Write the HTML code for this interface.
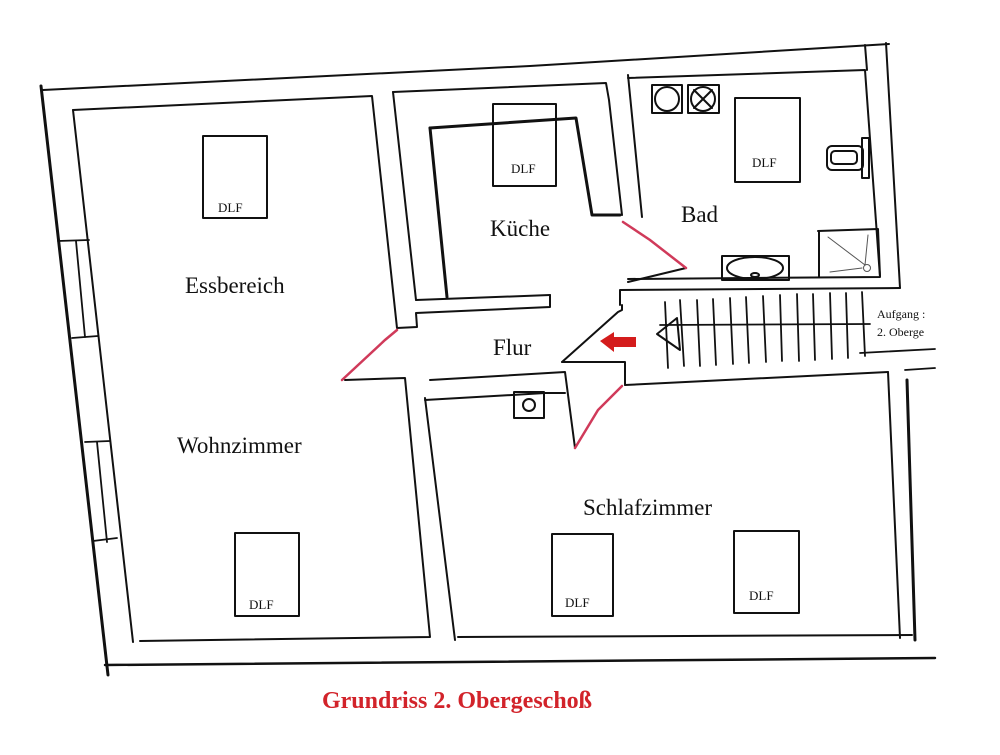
<!DOCTYPE html>
<html><head><meta charset="utf-8"><style>
html,body{margin:0;padding:0;background:#fff;}
svg{display:block;}
text{font-family:"Liberation Serif",serif;fill:#111;}
</style></head><body>
<svg width="1000" height="755" viewBox="0 0 1000 755" xmlns="http://www.w3.org/2000/svg">
<g fill="none" stroke="#111" stroke-width="2" stroke-linecap="round" stroke-linejoin="round">
<!-- outer -->
<polyline points="43,90 530,66 889,44"/>
<line x1="41" y1="86" x2="108" y2="675" stroke-width="3"/>
<line x1="105" y1="665" x2="935" y2="658" stroke-width="2.5"/>
<line x1="886" y1="43" x2="900" y2="288"/>
<line x1="865" y1="45" x2="867" y2="70"/>
<!-- Essbereich / Wohnzimmer inner -->
<polyline points="73,110 372,96 397,328 417,327 416,313 550,307 550,295"/>
<line x1="73" y1="110" x2="133" y2="642"/>
<polyline points="140,641 430,637 405,378 345,380"/>
<!-- windows -->
<g stroke-width="1.8">
<line x1="58" y1="241" x2="89" y2="240"/><line x1="76" y1="241" x2="85" y2="337"/><line x1="72" y1="338" x2="98" y2="336"/>
<line x1="85" y1="442" x2="110" y2="441"/><line x1="97" y1="442" x2="107" y2="542"/><line x1="93" y1="541" x2="117" y2="538"/>
</g>
<!-- Küche -->
<polyline points="393,92 606,83 609,100 622,215"/>
<line x1="393" y1="92" x2="416" y2="300"/>
<line x1="416" y1="300" x2="550" y2="295"/>
<polyline points="430,128 576,118 592,215 620,215" stroke-width="3"/>
<line x1="430" y1="128" x2="447" y2="297" stroke-width="3"/>
<!-- Bad -->
<polyline points="628,78 865,70 880,277 628,279"/>
<line x1="628" y1="75" x2="642" y2="217"/>
<line x1="628" y1="282" x2="686" y2="268"/>
<rect x="652" y="85" width="30" height="28"/><circle cx="667" cy="99" r="12"/>
<rect x="688" y="85" width="31" height="28"/><circle cx="703" cy="99" r="12"/>
<line x1="694" y1="90" x2="712" y2="108"/><line x1="712" y1="90" x2="694" y2="108"/>
<rect x="735" y="98" width="65" height="84"/>
<rect x="827" y="146" width="36" height="24" rx="5"/><rect x="831" y="151" width="26" height="13" rx="4"/>
<rect x="862" y="138" width="7" height="40"/>
<polyline points="818,231 878,229 880,276"/><line x1="819" y1="231" x2="819" y2="277"/>
<g stroke-width="1" stroke="#555"><line x1="828" y1="237" x2="865" y2="265"/><line x1="868" y1="235" x2="865" y2="265"/><line x1="830" y1="272" x2="862" y2="268"/><circle cx="867" cy="268" r="3.5"/></g>
<rect x="722" y="256" width="67" height="24"/><ellipse cx="755" cy="268" rx="28" ry="11"/><ellipse cx="755" cy="275" rx="4" ry="2"/>
<!-- stairs & Flur -->
<polyline points="620,305 620,290 900,288"/>
<g stroke-width="1.8">
<line x1="665" y1="302" x2="668" y2="368"/><line x1="680" y1="300" x2="684" y2="366"/><line x1="697" y1="300" x2="700" y2="366"/><line x1="713" y1="299" x2="716" y2="365"/><line x1="730" y1="298" x2="733" y2="364"/><line x1="746" y1="297" x2="749" y2="363"/><line x1="763" y1="296" x2="766" y2="362"/><line x1="780" y1="295" x2="782" y2="361"/><line x1="797" y1="294" x2="799" y2="361"/><line x1="813" y1="294" x2="815" y2="360"/><line x1="830" y1="293" x2="832" y2="359"/><line x1="846" y1="293" x2="848" y2="358"/><line x1="862" y1="292" x2="865" y2="356"/>
<line x1="660" y1="325" x2="870" y2="324"/>
<line x1="860" y1="353" x2="935" y2="349"/>
<line x1="905" y1="370" x2="935" y2="368"/>
</g>
<polygon points="657,334 677,318 680,350"/>
<polyline points="562,362 618,312 622,310 622,305"/>
<polyline points="562,362 625,362 625,372"/>
<!-- Schlafzimmer -->
<polyline points="425,400 512,395 545,393 565,393"/>
<polyline points="430,380 565,372 575,448"/>
<line x1="425" y1="398" x2="455" y2="640"/>
<line x1="625" y1="385" x2="888" y2="372"/>
<line x1="625" y1="372" x2="625" y2="385"/>
<line x1="888" y1="372" x2="900" y2="638"/>
<line x1="907" y1="380" x2="915" y2="640" stroke-width="3"/>
<line x1="458" y1="637" x2="912" y2="635"/>
<rect x="514" y="392" width="30" height="26"/><circle cx="529" cy="405" r="6"/>
<!-- DLF boxes -->
<rect x="203" y="136" width="64" height="82"/>
<rect x="493" y="104" width="63" height="82"/>
<rect x="235" y="533" width="64" height="83"/>
<rect x="552" y="534" width="61" height="82"/>
<rect x="734" y="531" width="65" height="82"/>
</g>
<!-- red doors -->
<g fill="none" stroke="#d03a5a" stroke-width="2.5" stroke-linecap="round">
<polyline points="397,330 385,340 342,380"/>
<polyline points="623,222 650,240 686,268"/>
<polyline points="575,448 598,410 622,386"/>
</g>
<polygon points="600,341 614,332 614,337 636,337 636,347 614,347 614,352" fill="#d41c1c"/>
<!-- labels -->
<g font-size="13">
<text x="218" y="212">DLF</text><text x="511" y="173">DLF</text><text x="752" y="167">DLF</text>
<text x="249" y="609">DLF</text><text x="565" y="607">DLF</text><text x="749" y="600">DLF</text>
<text x="877" y="318" font-size="12">Aufgang :</text><text x="877" y="336" font-size="12">2. Oberge</text>
</g>
<rect x="936" y="300" width="64" height="50" fill="#fff"/>
<g font-size="23">
<text x="490" y="236">Küche</text>
<text x="681" y="222">Bad</text>
<text x="185" y="293">Essbereich</text>
<text x="493" y="355">Flur</text>
<text x="177" y="453">Wohnzimmer</text>
<text x="583" y="515">Schlafzimmer</text>
</g>
<text x="457" y="708" text-anchor="middle" font-size="24" font-weight="bold" style="fill:#d2232a">Grundriss 2. Obergeschoß</text>
</svg>
</body></html>
